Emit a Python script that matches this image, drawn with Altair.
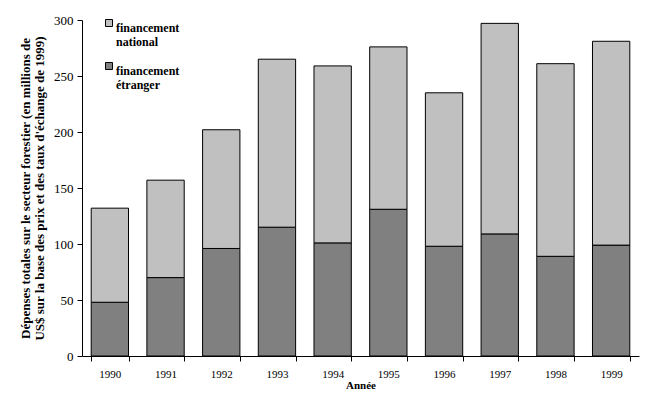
import altair as alt
import pandas as pd

years = ["1990", "1991", "1992", "1993", "1994", "1995", "1996", "1997", "1998", "1999"]
totals = [132, 157, 202, 265, 259, 276, 235, 297, 261, 281]
etranger = [48, 70, 96, 115, 101, 131, 98, 109, 89, 99]
series = ["financement national", "financement étranger"]
colors = ["#c0c0c0", "#808080"]

rows = []
for y, t, e in zip(years, totals, etranger):
    rows.append({"annee": y, "serie": series[1], "valeur": e, "ord": 0})
    rows.append({"annee": y, "serie": series[0], "valeur": t - e, "ord": 1})
df = pd.DataFrame(rows)

FONT = "Liberation Serif"

chart = alt.Chart(df).mark_bar(stroke="black", strokeWidth=1).encode(
    x=alt.X("annee:N", title="Année",
            scale=alt.Scale(paddingInner=0.33, paddingOuter=0.165),
            axis=alt.Axis(labelAngle=0, tickBand="extent", labelFontSize=11,
                          labelPadding=7, titlePadding=0, titleFontSize=11,
                          titleFontWeight="bold", tickSize=5)),
    y=alt.Y("valeur:Q", stack="zero",
            title=["Dépenses totales sur le secteur forestier (en millions de",
                   "US$ sur la base des prix et des taux d'échange de 1999)"],
            scale=alt.Scale(domain=[0, 300]),
            axis=alt.Axis(values=[0, 50, 100, 150, 200, 250, 300], labelFontSize=13,
                          tickSize=5, labelPadding=4, grid=False, titleFontSize=13,
                          titleFontWeight="bold", titleLineHeight=14, titlePadding=7)),
    color=alt.Color("serie:N",
                    scale=alt.Scale(domain=series, range=colors),
                    legend=alt.Legend(title=None, orient="none", legendX=21, legendY=-3,
                                      symbolType="square", symbolSize=49,
                                      symbolStrokeColor="black", symbolStrokeWidth=1,
                                      labelFontSize=12, labelFontWeight="bold",
                                      labelExpr="datum.label == 'financement national' ? ['financement', 'national'] : ['financement', 'étranger']",
                                      rowPadding=12, labelOffset=1, labelBaseline="top")),
    order=alt.Order("ord:Q", sort="ascending"),
).properties(
    width=557, height=336,
    autosize=alt.AutoSizeParams(type="none"),
    padding={"left": 74, "top": 12, "right": 3, "bottom": 35},
).configure(background="white", font=FONT).configure_view(stroke=None).configure_axis(
    labelFont=FONT, titleFont=FONT, labelColor="black", titleColor="black",
    domainColor="black", tickColor="black", domainWidth=1
).configure_legend(labelFont=FONT, labelColor="black")

chart.save("out.html", embed_options={"renderer": "svg", "actions": False})
